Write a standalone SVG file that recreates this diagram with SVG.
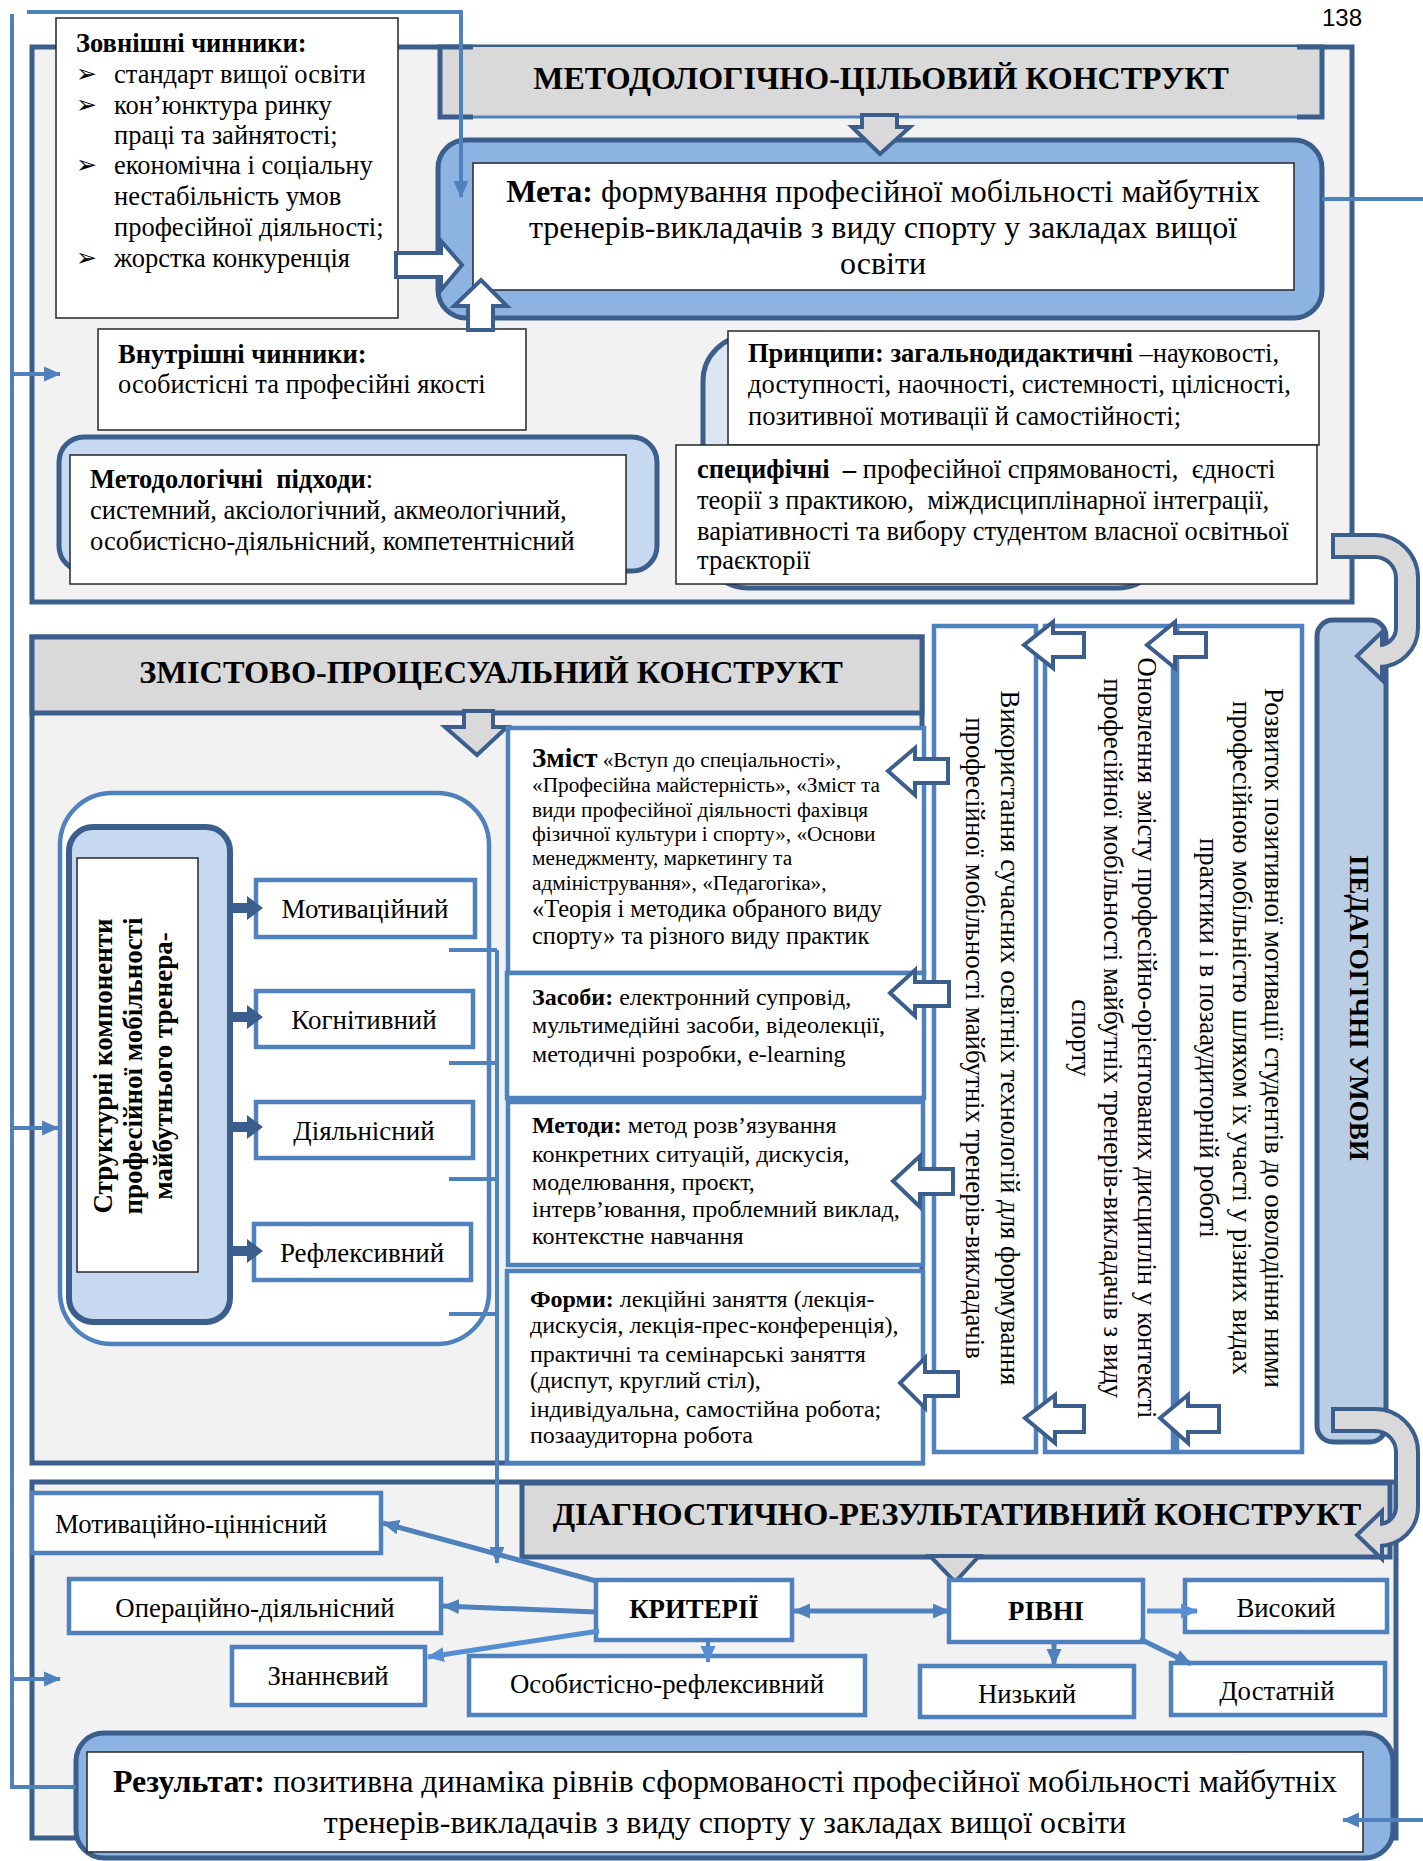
<svg xmlns="http://www.w3.org/2000/svg" width="1423" height="1861" viewBox="0 0 1423 1861">
<defs>
<style>
.sec{fill:#f2f2f2;stroke:#3b5e8c;stroke-width:5}
.hdr{fill:#d9d9d9;stroke:#3b5e8c;stroke-width:5}
.bx{fill:#fff;stroke:#4f81bd;stroke-width:4.5}
.tb{fill:#fff;stroke:#262626;stroke-width:1.5}
.ln{fill:none;stroke:#4f81bd;stroke-width:4}
.lt{fill:none;stroke:#4f81bd;stroke-width:5}
.ha{fill:#fff;stroke:#3b5e8c;stroke-width:4}
.ga{fill:#d9d9d9;stroke:#3b5e8c;stroke-width:4}
.da{fill:#3b5e8c}
.t{font-family:"Liberation Serif","Times New Roman",serif;fill:#000}
.b{font-weight:bold}
.c{text-anchor:middle}
</style>
<marker id="ah" markerUnits="userSpaceOnUse" viewBox="0 0 16 16" markerWidth="17" markerHeight="17" refX="15" refY="8" orient="auto-start-reverse"><path d="M0,1 L16,8 L0,15 z" fill="#4f81bd"/></marker>
<marker id="ahl" markerUnits="userSpaceOnUse" viewBox="0 0 16 16" markerWidth="17" markerHeight="17" refX="15" refY="8" orient="auto"><path d="M0,1 L16,8 L0,15 z" fill="#558ed5"/></marker>
</defs>
<rect x="0" y="0" width="1423" height="1861" fill="#fff"/>
<text x="1342" y="26" font-family="Liberation Sans, Arial, sans-serif" font-size="24" text-anchor="middle">138</text>

<!-- SECTION 1 -->
<g id="section1">
<rect class="sec" x="32" y="47" width="1320" height="555"/>
<rect x="440" y="47" width="882" height="70" fill="#d9d9d9"/>
<line x1="440" y1="117" x2="1322" y2="117" stroke="#4f81bd" stroke-width="3"/>
<path d="M473,47 H440 V117 H473 M1297,47 H1322 V117 H1297" fill="none" stroke="#3b5e8c" stroke-width="5"/>
<text class="t b c" x="881" y="89" font-size="32">МЕТОДОЛОГІЧНО-ЦІЛЬОВИЙ КОНСТРУКТ</text>
</g>

<g id="goal">
<rect x="438" y="140" width="884" height="178" rx="28" fill="#8db3e2" stroke="#3b5e8c" stroke-width="5"/>
<rect class="tb" x="473" y="163" width="821" height="127"/>
<text class="t c" font-size="32"><tspan x="883" y="202"><tspan font-weight="bold">Мета:</tspan> формування професійної мобільності майбутніх</tspan><tspan x="883" y="238">тренерів-викладачів з виду спорту у закладах вищої</tspan><tspan x="883" y="274">освіти</tspan></text>
</g>
<polygon id="arrow-goal" class="ga" points="862,115 897,115 897,127 910,127 880,154 852,127 862,127"/>

<g id="external">
<rect class="tb" x="56" y="18" width="342" height="300"/>
<text class="t" font-size="26.5"><tspan x="76" y="52" font-weight="bold">Зовнішні чинники:</tspan><tspan x="114" y="83">стандарт вищої освіти</tspan><tspan x="114" y="114">кон’юнктура ринку</tspan><tspan x="114" y="144">праці та зайнятості;</tspan><tspan x="114" y="174">економічна і соціальну</tspan><tspan x="114" y="205">нестабільність умов</tspan><tspan x="114" y="236">професійної діяльності;</tspan><tspan x="114" y="267">жорстка конкуренція</tspan></text>
<text font-family="DejaVu Sans, sans-serif" font-size="25"><tspan x="76" y="82">➢</tspan><tspan x="76" y="113">➢</tspan><tspan x="76" y="173">➢</tspan><tspan x="76" y="266">➢</tspan></text>
</g>
<polygon id="arrow-ext" class="ha" points="396,253 441,253 441,241 462,265 441,290 441,277 396,277"/>

<g id="internal">
<rect class="tb" x="98" y="329" width="428" height="101"/>
<text class="t" font-size="26.5"><tspan x="118" y="363" font-weight="bold">Внутрішні чинники:</tspan><tspan x="118" y="393">особистісні та професійні якості</tspan></text>
</g>
<polygon id="arrow-int" class="ha" points="468,330 468,306 454,306 481,280 507,306 493,306 493,330"/>

<g id="approaches">
<rect x="59" y="437" width="598" height="134" rx="25" fill="#c6d9f1" stroke="#3b5e8c" stroke-width="5"/>
<rect class="tb" x="70" y="455" width="556" height="129"/>
<text class="t" font-size="26.5" xml:space="preserve"><tspan x="90" y="488"><tspan font-weight="bold">Методологічні  підходи</tspan>:</tspan><tspan x="90" y="519">системний, аксіологічний, акмеологічний,</tspan><tspan x="90" y="550">особистісно-діяльнісний, компетентнісний</tspan></text>
</g>

<g id="principles">
<rect x="703" y="336" width="460" height="252" rx="45" fill="#dce6f2" stroke="#3b5e8c" stroke-width="5"/>
<rect class="tb" x="728" y="331" width="591" height="114"/>
<text class="t" font-size="26.5"><tspan x="748" y="362"><tspan font-weight="bold">Принципи: загальнодидактичні</tspan> –науковості,</tspan><tspan x="748" y="393">доступності, наочності, системності, цілісності,</tspan><tspan x="748" y="425">позитивної мотивації й самостійності;</tspan></text>
<rect class="tb" x="676" y="445" width="641" height="139"/>
<text class="t" font-size="26.5" xml:space="preserve"><tspan x="697" y="478"><tspan font-weight="bold">специфічні  –</tspan> професійної спрямованості,  єдності</tspan><tspan x="697" y="509">теорії з практикою,  міждисциплінарної інтеграції,</tspan><tspan x="697" y="540">варіативності та вибору студентом власної освітньої</tspan><tspan x="697" y="569">траєкторії</tspan></text>
</g>

<!-- SECTION 2 -->
<g id="section2">
<rect class="sec" x="32" y="637" width="890" height="826"/>
<rect class="hdr" x="32" y="637" width="890" height="76"/>
<text class="t b c" x="491" y="683" font-size="32.4">ЗМІСТОВО-ПРОЦЕСУАЛЬНИЙ КОНСТРУКТ</text>
</g>
<polygon id="arrow-sec2" class="ga" points="464,711 493,711 493,727 507,727 477,755 445,727 464,727"/>

<g id="structure">
<rect x="60" y="793" width="429" height="551" rx="52" fill="#fff" stroke="#4f81bd" stroke-width="4.5"/>
<rect x="69" y="827" width="161" height="495" rx="24" fill="#c6d9f1" stroke="#3b5e8c" stroke-width="6"/>
<rect class="tb" x="77" y="858" width="121" height="414"/>
<text class="t b c" font-size="27" transform="translate(112,1066) rotate(-90)">Структурні компоненти</text>
<text class="t b c" font-size="27" transform="translate(142,1066) rotate(-90)">професійної мобільності</text>
<text class="t b c" font-size="27" transform="translate(172,1066) rotate(-90)">майбутнього тренера-</text>
</g>
<g id="comp-motiv"><rect class="bx" x="256" y="880" width="219" height="57"/><text class="t c" x="365" y="918" font-size="27">Мотиваційний</text></g>
<g id="comp-cogn"><rect class="bx" x="256" y="991" width="217" height="56"/><text class="t c" x="364" y="1029" font-size="27">Когнітивний</text></g>
<g id="comp-act"><rect class="bx" x="256" y="1102" width="217" height="56"/><text class="t c" x="364" y="1140" font-size="27">Діяльнісний</text></g>
<g id="comp-refl"><rect class="bx" x="254" y="1224" width="217" height="56"/><text class="t c" x="362" y="1262" font-size="27">Рефлексивний</text></g>

<g id="content-zmist">
<rect class="bx" x="508" y="728" width="416" height="245"/>
<text class="t" font-size="21.3"><tspan x="532" y="767"><tspan font-weight="bold" font-size="27">Зміст</tspan> «Вступ до спеціальності»,</tspan><tspan x="532" y="792">«Професійна майстерність», «Зміст та</tspan><tspan x="532" y="817">види професійної діяльності фахівця</tspan><tspan x="532" y="841">фізичної культури і спорту», «Основи</tspan><tspan x="532" y="865">менеджменту, маркетингу та</tspan><tspan x="532" y="890">адміністрування», «Педагогіка»,</tspan><tspan x="532" y="917" font-size="24.4">«Теорія і методика обраного виду</tspan><tspan x="532" y="944" font-size="24.4">спорту» та різного виду практик</tspan></text>
</g>
<g id="content-means">
<rect class="bx" x="507" y="973" width="417" height="125"/>
<text class="t" font-size="24"><tspan x="532" y="1005"><tspan font-weight="bold">Засоби:</tspan> електронний супровід,</tspan><tspan x="532" y="1033">мультимедійні засоби, відеолекції,</tspan><tspan x="532" y="1062">методичні розробки, e-learning</tspan></text>
</g>
<g id="content-methods">
<rect class="bx" x="508" y="1102" width="415" height="163"/>
<text class="t" font-size="24"><tspan x="532" y="1133"><tspan font-weight="bold">Методи:</tspan> метод розв’язування</tspan><tspan x="532" y="1162">конкретних ситуацій, дискусія,</tspan><tspan x="532" y="1190">моделювання, проєкт,</tspan><tspan x="532" y="1217">інтерв’ювання, проблемний виклад,</tspan><tspan x="532" y="1244">контекстне навчання</tspan></text>
</g>
<g id="content-forms">
<rect class="bx" x="507" y="1271" width="416" height="192"/>
<text class="t" font-size="24"><tspan x="530" y="1307"><tspan font-weight="bold">Форми:</tspan> лекційні заняття (лекція-</tspan><tspan x="530" y="1333">дискусія, лекція-прес-конференція),</tspan><tspan x="530" y="1362">практичні та семінарські заняття</tspan><tspan x="530" y="1388">(диспут, круглий стіл),</tspan><tspan x="530" y="1417">індивідуальна, самостійна робота;</tspan><tspan x="530" y="1443">позааудиторна робота</tspan></text>
</g>

<g id="cond-a">
<rect class="bx" x="934" y="626" width="102" height="826"/>
<text class="t c" font-size="26.8" transform="translate(1001,1038) rotate(90)">Використання сучасних освітніх технологій для формування</text>
<text class="t c" font-size="26.8" transform="translate(966,1038) rotate(90)">професійної мобільності майбутніх тренерів-викладачів</text>
</g>
<g id="cond-b">
<rect class="bx" x="1045" y="626" width="128" height="826"/>
<text class="t c" font-size="26.8" transform="translate(1138,1038) rotate(90)">Оновлення змісту професійно-орієнтованих дисциплін у контексті</text>
<text class="t c" font-size="26.8" transform="translate(1104,1038) rotate(90)">професійної мобільності майбутніх тренерів-викладачів з виду</text>
<text class="t c" font-size="26.8" transform="translate(1072,1038) rotate(90)">спорту</text>
</g>
<g id="cond-c">
<rect class="bx" x="1177" y="626" width="125" height="826"/>
<text class="t c" font-size="26.8" transform="translate(1265,1038) rotate(90)">Розвиток позитивної мотивації студентів до оволодіння ними</text>
<text class="t c" font-size="26.8" transform="translate(1233,1038) rotate(90)">професійною мобільністю шляхом їх участі у різних видах</text>
<text class="t c" font-size="26.8" transform="translate(1200,1038) rotate(90)">практики і в позааудиторній роботі</text>
</g>
<g id="ped-conditions">
<rect x="1317" y="620" width="69" height="822" rx="16" fill="#b9cde5" stroke="#3b5e8c" stroke-width="5"/>
<text class="t b c" font-size="27" transform="translate(1350,1008) rotate(90)">ПЕДАГОГІЧНІ УМОВИ</text>
</g>

<!-- SECTION 3 -->
<g id="section3">
<rect class="sec" x="32" y="1482" width="1364" height="356"/>
<rect class="hdr" x="522" y="1483" width="868" height="74"/>
<text class="t b c" x="957" y="1525" font-size="32.6">ДІАГНОСТИЧНО-РЕЗУЛЬТАТИВНИЙ КОНСТРУКТ</text>
</g>
<polygon id="arrow-sec3" class="ga" points="930,1556 979,1556 955,1582"/>

<g id="crit-motiv"><rect class="bx" x="32" y="1493" width="349" height="60"/><text class="t" x="55" y="1533" font-size="26.8">Мотиваційно-ціннісний</text></g>
<g id="crit-oper"><rect class="bx" x="69" y="1579" width="372" height="54"/><text class="t c" x="255" y="1617" font-size="26.8">Операційно-діяльнісний</text></g>
<g id="crit-know"><rect class="bx" x="232" y="1647" width="193" height="58"/><text class="t c" x="328" y="1685" font-size="26.8">Знаннєвий</text></g>
<g id="crit-pers"><rect class="bx" x="469" y="1656" width="396" height="59"/><text class="t c" x="667" y="1693" font-size="26.8">Особистісно-рефлексивний</text></g>
<g id="criteria"><rect class="bx" x="596" y="1580" width="196" height="60"/><text class="t b c" x="694" y="1618" font-size="26.8">КРИТЕРІЇ</text></g>
<g id="levels"><rect class="bx" x="949" y="1580" width="194" height="62"/><text class="t b c" x="1046" y="1620" font-size="26.8">РІВНІ</text></g>
<g id="lvl-high"><rect class="bx" x="1185" y="1580" width="202" height="52"/><text class="t c" x="1286" y="1617" font-size="26.8">Високий</text></g>
<g id="lvl-low"><rect class="bx" x="920" y="1666" width="214" height="51"/><text class="t c" x="1027" y="1703" font-size="26.8">Низький</text></g>
<g id="lvl-mid"><rect class="bx" x="1171" y="1663" width="214" height="52"/><text class="t c" x="1277" y="1700" font-size="26.8">Достатній</text></g>

<g id="result">
<rect x="76" y="1733" width="1317" height="125" rx="28" fill="#8db3e2" stroke="#3b5e8c" stroke-width="5"/>
<rect class="tb" x="87" y="1752" width="1276" height="100"/>
<text class="t c" font-size="32"><tspan x="725" y="1792"><tspan font-weight="bold">Результат:</tspan> позитивна динаміка рівнів сформованості професійної мобільності майбутніх</tspan><tspan x="725" y="1833">тренерів-викладачів з виду спорту у закладах вищої освіти</tspan></text>
</g>

<!-- CONNECTORS -->
<g id="connectors">
<path class="ln" d="M12,14 V1787 H76"/>
<path class="ln" d="M27,12 H461 V197" marker-end="url(#ah)"/>
<path class="ln" d="M12,374 H60" marker-end="url(#ah)"/>
<path class="ln" d="M12,1128 H58" marker-end="url(#ah)"/>
<path class="ln" d="M12,1679 H60" marker-end="url(#ah)"/>
<path class="ln" d="M1322,199 H1423"/>
<path class="ln" d="M1423,1820 H1343" marker-end="url(#ah)"/>
<path class="ln" d="M449,950 H497 M449,1063 H497 M449,1179 H497 M449,1314 H497"/>
<path class="ln" d="M497,950 V1563" marker-end="url(#ah)"/>
<path class="lt" d="M596,1581 L383,1523" marker-end="url(#ah)"/>
<path class="lt" d="M596,1612 L443,1606" marker-end="url(#ah)"/>
<path fill="none" stroke="#558ed5" stroke-width="5" d="M599,1631 L428,1657" marker-end="url(#ahl)"/>
<path class="ln" d="M708,1641 V1662" marker-end="url(#ahl)"/>
<path class="lt" d="M794,1611 H949" marker-start="url(#ah)" marker-end="url(#ah)"/>
<path fill="none" stroke="#558ed5" stroke-width="5" d="M1147,1611 H1197" marker-end="url(#ahl)"/>
<path class="lt" d="M1054,1642 V1665" marker-end="url(#ah)"/>
<path class="lt" d="M1140,1639 L1191,1664" marker-end="url(#ah)"/>
<polygon class="da" points="230,903 247,903 247,896 263,908 247,920 247,913 230,913"/>
<polygon class="da" points="230,1012 247,1012 247,1005 263,1017 247,1029 247,1022 230,1022"/>
<polygon class="da" points="230,1122 247,1122 247,1115 263,1127 247,1139 247,1132 230,1132"/>
<polygon class="da" points="230,1246 247,1246 247,1239 263,1251 247,1263 247,1256 230,1256"/>
<polygon class="ha" points="948,759 915,759 915,748 888,771 915,795 915,783 948,783"/>
<polygon class="ha" points="949,982 915,982 915,970 890,993 915,1016 915,1006 949,1006"/>
<polygon class="ha" points="953,1169 920,1169 920,1156 893,1181 920,1207 920,1194 953,1194"/>
<polygon class="ha" points="958,1372 925,1372 925,1358 900,1383 925,1408 925,1396 958,1396"/>
<polygon class="ha" points="1084,633 1053,633 1053,622 1024,645 1053,668 1053,657 1084,657"/>
<polygon class="ha" points="1206,633 1175,633 1175,622 1147,645 1175,668 1175,657 1206,657"/>
<polygon class="ha" points="1084,1406 1055,1406 1055,1395 1025,1418 1055,1443 1055,1432 1084,1432"/>
<polygon class="ha" points="1219,1406 1188,1406 1188,1395 1160,1418 1188,1443 1188,1432 1219,1432"/>
<path d="M1331,546 H1375 A32,32 0 0 1 1407,578 V628 A28,28 0 0 1 1379,656" fill="none" stroke="#3b5e8c" stroke-width="26"/>
<polygon class="ga" points="1382,632 1357,656 1382,680"/>
<path d="M1335,546 H1375 A32,32 0 0 1 1407,578 V628 A28,28 0 0 1 1377,656" fill="none" stroke="#d9d9d9" stroke-width="18"/>
<path d="M1331,1420 H1375 A32,32 0 0 1 1407,1452 V1507 A28,28 0 0 1 1379,1535" fill="none" stroke="#3b5e8c" stroke-width="26"/>
<polygon class="ga" points="1382,1511 1357,1535 1382,1559"/>
<path d="M1335,1420 H1375 A32,32 0 0 1 1407,1452 V1507 A28,28 0 0 1 1377,1535" fill="none" stroke="#d9d9d9" stroke-width="18"/>
</g>
</svg>
